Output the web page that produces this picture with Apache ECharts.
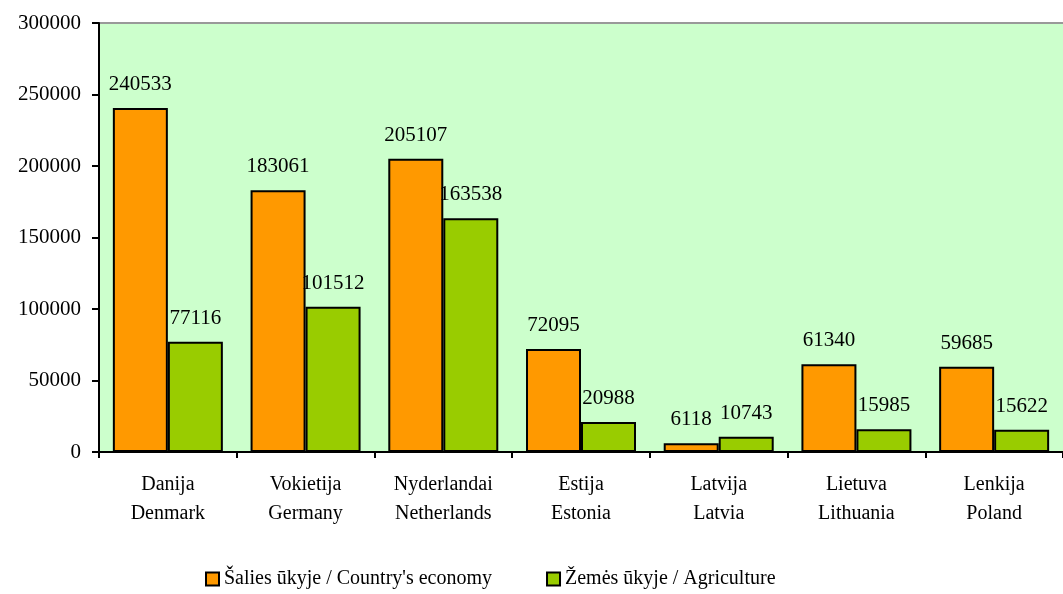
<!DOCTYPE html>
<html>
<head>
<meta charset="utf-8">
<script src="https://cdn.jsdelivr.net/npm/echarts@6/dist/echarts.min.js"></script>
<style>
html, body { margin: 0; padding: 0; background: #fff; }
#chart { width: 1063px; height: 594px; }
</style>
</head>
<body>
<div id="chart"></div>
<script>
// Data
var countries = ['Danija\nDenmark', 'Vokietija\nGermany', 'Nyderlandai\nNetherlands', 'Estija\nEstonia', 'Latvija\nLatvia', 'Lietuva\nLithuania', 'Lenkija\nPoland'];
var economyValues = [240533, 183061, 205107, 72095, 6118, 61340, 59685];
var agricultureValues = [77116, 101512, 163538, 20988, 10743, 15985, 15622];
var economyName = 'Šalies ūkyje / Country\'s economy';
var agricultureName = 'Žemės ūkyje / Agriculture';

var serif = '"Liberation Serif", "DejaVu Serif", serif';

var chart = echarts.init(document.getElementById('chart'));
var options = {
    animation: false,
    textStyle: { fontFamily: serif, color: '#000' },
    legend: {
        bottom: 0,
        left: 200,
        itemGap: 54,
        itemWidth: 13,
        itemHeight: 13,
        icon: 'rect',
        textStyle: { fontFamily: serif, fontSize: 20, color: '#000' },
        data: [economyName, agricultureName]
    },
    grid: {
        left: 99,
        top: 23,
        width: 966,
        height: 429,
        backgroundColor: '#CCFFCC',
        show: true,
        borderWidth: 0
    },
    xAxis: {
        type: 'category',
        data: countries,
        axisLine: { lineStyle: { color: '#000', width: 2 } },
        axisTick: { show: true, length: 6, lineStyle: { color: '#000', width: 2 } },
        axisLabel: { fontFamily: serif, fontSize: 20, color: '#000', lineHeight: 29, margin: 18 }
    },
    yAxis: {
        type: 'value',
        min: 0,
        max: 300000,
        interval: 50000,
        axisLine: { show: true, lineStyle: { color: '#000', width: 2 } },
        axisTick: { show: true, length: 7, lineStyle: { color: '#000', width: 2 } },
        axisLabel: {
            fontFamily: serif, fontSize: 21, color: '#000', margin: 18,
            formatter: function (v) { return String(v); }
        },
        splitLine: { show: false }
    },
    series: [
        {
            name: economyName,
            type: 'bar',
            data: economyValues,
            barWidth: 55,
            barGap: '0%',
            itemStyle: { color: '#FF9900', borderColor: '#000', borderWidth: 2 },
            label: { show: true, position: 'top', distance: 13, fontFamily: serif, fontSize: 21, color: '#000' }
        },
        {
            name: agricultureName,
            type: 'bar',
            data: agricultureValues,
            barWidth: 55,
            barGap: '0%',
            itemStyle: { color: '#99CC00', borderColor: '#000', borderWidth: 2 },
            label: { show: true, position: 'top', distance: 13, fontFamily: serif, fontSize: 21, color: '#000' }
        }
    ],
    graphic: [
        {
            type: 'line',
            shape: { x1: 99, y1: 23, x2: 1063, y2: 23 },
            style: { stroke: '#999', lineWidth: 2 }
        }
    ]
};
chart.setOption(options);
</script>
</body>
</html>
